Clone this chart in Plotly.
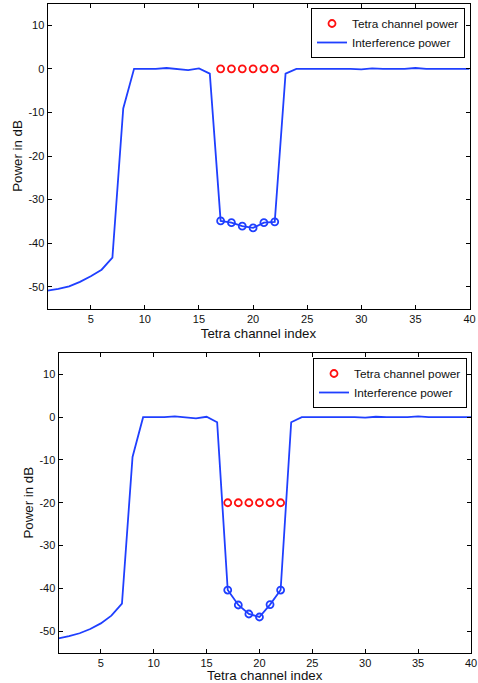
import plotly.graph_objects as go

# Channel indices
channels = list(range(1, 41))
tetra_idx = [17, 18, 19, 20, 21, 22]

# Upper panel: interference power (dB) and Tetra channel power (dB)
interf_a = [-50.9, -50.5, -49.9, -48.9, -47.6, -46.1, -43.3, -9.1, 0.0, 0.0,
            0.0, 0.2, 0.0, -0.3, 0.1, -1.1, -34.9, -35.3, -36.1, -36.5,
            -35.3, -35.1, -1.1, 0.0, 0.0, 0.0, 0.1, 0.0, 0.0, -0.1,
            0.1, 0.0, 0.0, 0.0, 0.2, 0.0, 0.0, 0.0, 0.0, 0.0]
tetra_a = [0, 0, 0, 0, 0, 0]

# Lower panel
interf_b = [-51.7, -51.2, -50.5, -49.5, -48.2, -46.4, -43.6, -9.3, 0.0, 0.0,
            0.0, 0.2, 0.0, -0.3, 0.1, -1.2, -40.4, -43.9, -46.0, -46.7,
            -43.8, -40.4, -1.2, 0.0, 0.0, 0.0, 0.1, 0.0, 0.0, -0.1,
            0.1, 0.0, 0.0, 0.0, 0.2, 0.0, 0.0, 0.0, 0.0, 0.0]
tetra_b = [-20, -20, -20, -20, -20, -20]

x_ticks = [5, 10, 15, 20, 25, 30, 35, 40]
y_ticks = [10, 0, -10, -20, -30, -40, -50]
y_tick_text = ["10", "0", "-10", "-20", "-30", "-40", "-50"]

BLUE = "#1f3fff"
RED = "#ff1010"
FONT = "Liberation Sans, Arial, sans-serif"


def subset(values):
    return [values[channels.index(i)] for i in tetra_idx]


fig = go.Figure()

panels = [
    (interf_a, tetra_a, "x", "y", "legend"),
    (interf_b, tetra_b, "x2", "y2", "legend2"),
]
for interf, tetra, xa, ya, lg in panels:
    fig.add_trace(go.Scatter(
        x=tetra_idx, y=tetra, mode="markers", name="Tetra channel power",
        marker=dict(symbol="circle-open", size=7, color=RED, line=dict(width=1.8)),
        xaxis=xa, yaxis=ya, legend=lg))
    fig.add_trace(go.Scatter(
        x=channels, y=interf, mode="lines", name="Interference power",
        line=dict(color=BLUE, width=1.8),
        xaxis=xa, yaxis=ya, legend=lg))
    fig.add_trace(go.Scatter(
        x=tetra_idx, y=subset(interf), mode="markers", showlegend=False,
        marker=dict(symbol="circle-open", size=7, color=BLUE, line=dict(width=1.8)),
        xaxis=xa, yaxis=ya, legend=lg))

W, H = 478, 683

axis_common = dict(
    showgrid=False, zeroline=False, showline=True, linecolor="black", linewidth=1,
    mirror="ticks", ticks="inside", ticklen=4, tickcolor="black", tickwidth=1,
    tickfont=dict(family=FONT, size=11, color="#111"), automargin=False,
)
x_common = dict(axis_common, ticklabeloverflow="allow")
title_font = dict(family=FONT, size=13.3, color="#111")
legend_common = dict(
    xanchor="right", yanchor="top",
    bgcolor="white", bordercolor="black", borderwidth=1,
    font=dict(family=FONT, size=11.8, color="#111"),
    tracegroupgap=0, itemwidth=30,
)

fig.update_layout(
    width=W, height=H,
    margin=dict(l=0, r=0, t=0, b=0),
    paper_bgcolor="white", plot_bgcolor="white",
    font=dict(family=FONT, color="#111"),
    xaxis=dict(x_common, domain=[47.5 / W, 469.5 / W], range=[1, 40],
               tickvals=x_ticks, anchor="y",
               title=dict(text="Tetra channel index", font=title_font, standoff=4)),
    yaxis=dict(axis_common, domain=[1 - 308.5 / H, 1 - 3.5 / H], range=[-55, 15],
               tickvals=y_ticks, ticktext=y_tick_text, anchor="x",
               title=dict(text="Power in dB", font=title_font, standoff=2)),
    xaxis2=dict(x_common, domain=[58.5 / W, 471 / W], range=[1, 40],
                tickvals=x_ticks, anchor="y2",
                title=dict(text="Tetra channel index", font=title_font, standoff=3)),
    yaxis2=dict(axis_common, domain=[1 - 652.5 / H, 1 - 353 / H], range=[-55, 15],
                tickvals=y_ticks, ticktext=y_tick_text, anchor="x2",
                title=dict(text="Power in dB", font=title_font, standoff=2)),
    legend=dict(legend_common, x=465 / W, y=1 - 8 / H),
    legend2=dict(legend_common, x=467 / W, y=1 - 358 / H),
    showlegend=True,
)

fig.write_html("out.html")
